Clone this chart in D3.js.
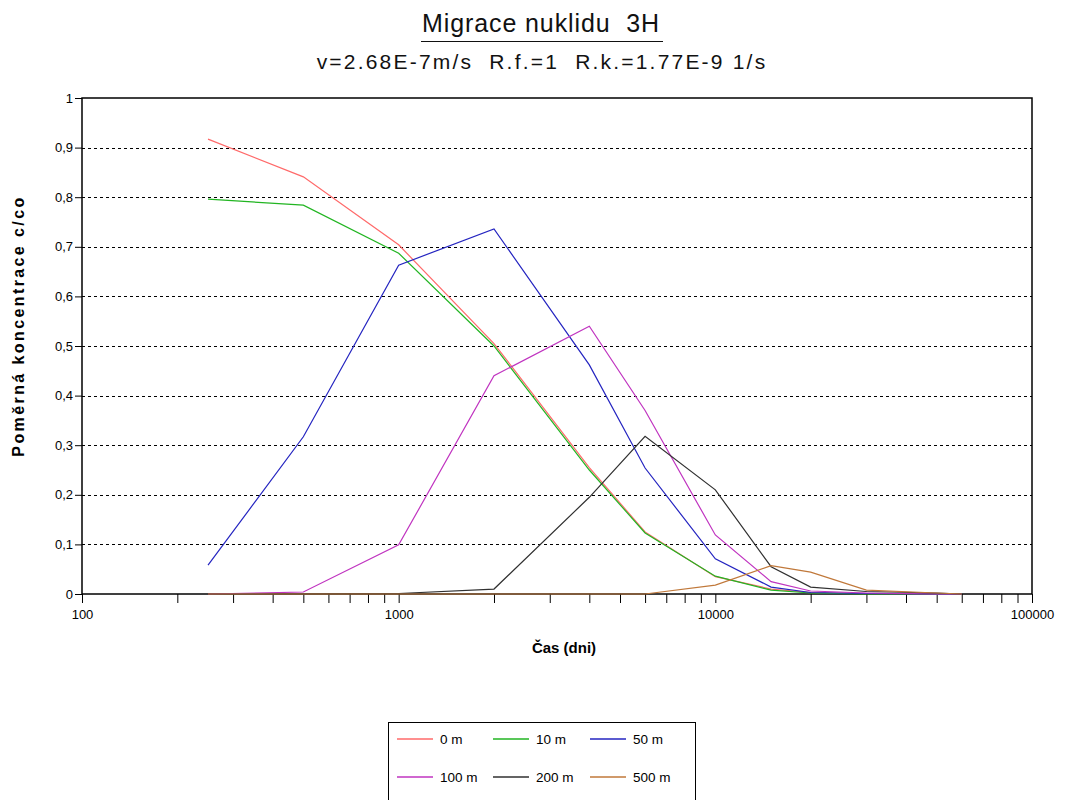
<!DOCTYPE html>
<html>
<head>
<meta charset="utf-8">
<script src="https://cdn.jsdelivr.net/npm/d3@7"></script>
<style>
  body { margin: 0; background: #fff; }
  svg { display: block; font-family: "Liberation Sans", Arial, sans-serif; }
</style>
</head>
<body>
<div id="chart"></div>
<script>
// time points (days) shared by all series
const times = [250, 500, 1000, 2000, 4000, 6000, 10000, 15000, 20000, 30000, 50000, 60000]

const s0m   = [0.917, 0.841, 0.704, 0.505, 0.255, 0.125, 0.035, 0.010, 0.003, 0.001, 0, 0]
const s10m  = [0.796, 0.784, 0.687, 0.500, 0.250, 0.123, 0.036, 0.008, 0.002, 0, 0, 0]
const s50m  = [0.058, 0.317, 0.663, 0.736, 0.462, 0.254, 0.071, 0.014, 0.003, 0.001, 0, 0]
const s100m = [0, 0.004, 0.099, 0.440, 0.540, 0.370, 0.119, 0.025, 0.006, 0.002, 0, 0]
const s200m = [0, 0, 0.001, 0.010, 0.195, 0.318, 0.210, 0.055, 0.014, 0.005, 0.002, 0]
const s500m = [0, 0, 0, 0, 0, 0, 0.018, 0.057, 0.044, 0.008, 0.002, 0]

const seriesNames = ["0 m", "10 m", "50 m", "100 m", "200 m", "500 m"]
const seriesValues = [s0m, s10m, s50m, s100m, s200m, s500m]
const colors = ["#ff6a6a", "#22b522", "#2424c0", "#c034c0", "#303030", "#c0783a"]

const xTicksMajor = [100, 1000, 10000, 100000]
const yTicks = [0, 0.1, 0.2, 0.3, 0.4, 0.5, 0.6, 0.7, 0.8, 0.9, 1]

const width = 1065, height = 800
const conf = { ml: 82, mr: 33, mt: 98, mb: 206 }

const svg = d3.select("#chart")
    .append("svg")
        .attr("width", width)
        .attr("height", height)
        .attr("viewBox", [0, 0, width, height])

const xAxis = d3.scaleLog()
    .domain([100, 100000])
    .range([conf.ml, width - conf.mr]),
  yAxis = d3.scaleLinear()
    .domain([0, 1])
    .range([height - conf.mb, conf.mt])

// titles
svg.append("text")
    .attr("x", 541).attr("y", 32)
    .attr("text-anchor", "middle")
    .attr("font-size", 25)
    .attr("letter-spacing", 0.9)
    .attr("fill", "#111")
    .style("white-space", "pre")
    .text("Migrace nuklidu  3H")
svg.append("line")
    .attr("x1", 421).attr("x2", 663)
    .attr("y1", 41.5).attr("y2", 41.5)
    .attr("stroke", "#111").attr("stroke-width", 1.2)
svg.append("text")
    .attr("x", 542).attr("y", 69)
    .attr("text-anchor", "middle")
    .attr("font-size", 21)
    .attr("letter-spacing", 2.2)
    .attr("fill", "#111")
    .style("white-space", "pre")
    .text("v=2.68E-7m/s  R.f.=1  R.k.=1.77E-9 1/s")

// grid lines
svg.append("g")
    .attr("class", "grid")
    .selectAll("line")
    .data(yTicks.filter(d => d > 0 && d < 1))
    .enter()
    .append("line")
        .attr("x1", conf.ml).attr("x2", width - conf.mr)
        .attr("y1", d => Math.round(yAxis(d)) + 0.5)
        .attr("y2", d => Math.round(yAxis(d)) + 0.5)
        .attr("stroke", "#000")
        .attr("stroke-dasharray", "3,3")

// y axis
svg.append("g")
    .attr("class", "yAxes")
    .attr("transform", `translate(${conf.ml},0)`)
    .call(d3.axisLeft(yAxis).tickValues(yTicks).tickSize(7).tickPadding(2)
        .tickFormat(d => d3.format(".1~f")(d).replace(".", ",")))
    .call(g => g.select(".domain").remove())
    .call(g => g.selectAll("text").attr("font-size", 13).attr("fill", "#000")
        .attr("font-family", "Liberation Sans, Arial, sans-serif"))

// x axis
svg.append("g")
    .attr("class", "xAxes")
    .attr("transform", "translate(0," + (height - conf.mb) + ")")
    .call(d3.axisBottom(xAxis).ticks(30).tickSize(9).tickPadding(7)
        .tickFormat(d => xTicksMajor.includes(d) ? d : ""))
    .call(g => g.select(".domain").remove())
    .call(g => g.selectAll("text").attr("font-size", 13).attr("fill", "#000")
        .attr("font-family", "Liberation Sans, Arial, sans-serif"))

// plot frame
svg.append("rect")
    .attr("x", conf.ml).attr("y", conf.mt)
    .attr("width", width - conf.mr - conf.ml)
    .attr("height", height - conf.mb - conf.mt)
    .attr("fill", "none")
    .attr("stroke", "#000")
    .attr("stroke-width", 1.5)

// axis titles
svg.append("text")
    .attr("transform", "translate(24,326) rotate(-90)")
    .attr("text-anchor", "middle")
    .attr("font-size", 16)
    .attr("font-weight", "bold")
    .attr("letter-spacing", 2.4)
    .text("Poměrná koncentrace c/co")
svg.append("text")
    .attr("x", 564).attr("y", 653)
    .attr("text-anchor", "middle")
    .attr("font-size", 15)
    .attr("font-weight", "bold")
    .text("Čas (dni)")

// lines
const line = d3.line()
    .x((d, i) => xAxis(times[i]))
    .y(d => yAxis(d))

svg.selectAll(".line")
    .data(seriesValues)
    .enter()
    .append("path")
        .attr("class", "line")
        .attr("fill", "none")
        .attr("stroke", (d, i) => colors[i])
        .attr("stroke-width", 1.2)
        .attr("d", d => line(d))

// legend
const legend = svg.append("g").attr("class", "legend")
legend.append("rect")
    .attr("x", 388.5).attr("y", 722.5)
    .attr("width", 307).attr("height", 100)
    .attr("fill", "none")
    .attr("stroke", "#000")
const colX = [397, 493, 590], rowY = [739, 777]
seriesNames.forEach((name, i) => {
    const x = colX[i % 3], y = rowY[Math.floor(i / 3)]
    legend.append("line")
        .attr("x1", x).attr("x2", x + 36)
        .attr("y1", y).attr("y2", y)
        .attr("stroke", colors[i])
        .attr("stroke-width", 1.5)
    legend.append("text")
        .attr("x", x + 43).attr("y", y + 5)
        .attr("font-size", 13.5)
        .attr("fill", "#000")
        .text(name)
})
</script>
</body>
</html>
